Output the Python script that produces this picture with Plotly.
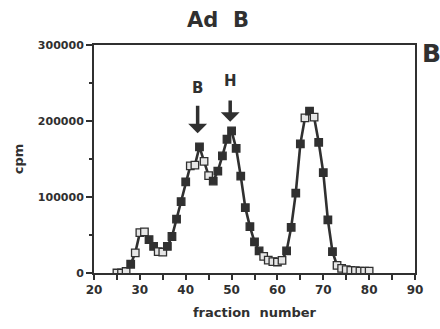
import plotly.graph_objects as go

# ---- data ----
fractions = list(range(25, 81))
cpm = [
    0, 0, 2000, 11500, 26500, 53000, 54000, 44000, 35000, 28000,          # 25-34
    27500, 35000, 48000, 71000, 94000, 120000, 141000, 142000, 166000, 147000,  # 35-44
    128000, 121000, 134000, 154000, 176000, 187000, 164000, 127500, 86000, 61000,  # 45-54
    41000, 29000, 22000, 17000, 15000, 14500, 16500, 29000, 60000, 105000,  # 55-64
    170000, 204000, 213000, 205000, 172000, 132000, 70000, 28000, 10000, 6000,  # 65-74
    4500, 3500, 3000, 2500, 2500, 2500,                                     # 75-80
]
# fractions whose squares look open (light centre) in the photocopy
open_fractions = [25, 26, 27, 29, 30, 31, 34, 35, 41, 42, 44, 45,
                  57, 58, 59, 60, 61, 66, 68, 73, 74, 75, 76, 77, 78, 79, 80]

peak_labels = ["B", "H"]
peak_x = [42.6, 49.7]
arrow_tip = [184000, 199000]
arrow_tail = [222000, 229000]
label_y = [244000, 252000]

x_ticks = [20, 30, 40, 50, 60, 70, 80, 90]
y_ticks = [0, 100000, 200000, 300000]
y_ticktext = ["0", "100000", "200000", "300000"]

INK = "#303030"
FONT = "DejaVu Sans"

W, H = 440, 329
ML, MR, MT, MB = 94, 25, 45, 56
PW, PH = W - ML - MR, H - MT - MB

fill = ["#e6e6e6" if f in open_fractions else INK for f in fractions]

fig = go.Figure()
fig.add_trace(go.Scatter(
    x=fractions, y=cpm, mode="lines+markers",
    line=dict(color=INK, width=2.6),
    marker=dict(symbol="square", size=7.5, color=fill,
                line=dict(color=INK, width=1.3)),
    showlegend=False, hoverinfo="skip",
))

annotations = []
for lab, px, tip, tail, ly in zip(peak_labels, peak_x, arrow_tip, arrow_tail, label_y):
    annotations.append(dict(
        x=px, y=tip, ax=px, ay=tail, xref="x", yref="y", axref="x", ayref="y",
        text="", showarrow=True, arrowhead=1, arrowwidth=3.5, arrowsize=0.9,
        arrowcolor=INK,
    ))
    annotations.append(dict(
        x=px, y=ly, xref="x", yref="y", text=lab, showarrow=False,
        xanchor="center", yanchor="middle",
        font=dict(family=FONT, size=15, color=INK, weight="bold"),
    ))

# panel letter at the right edge
annotations.append(dict(
    x=(431 - ML) / PW, y=(H - MB - 53) / PH, xref="paper", yref="paper",
    xanchor="center", yanchor="middle",
    text="B", showarrow=False,
    font=dict(family=FONT, size=25, color=INK, weight="bold"),
))

fig.update_layout(
    width=W, height=H,
    margin=dict(l=ML, r=MR, t=MT, b=MB, autoexpand=False),
    paper_bgcolor="white", plot_bgcolor="white",
    title=dict(text="Ad  B", x=218 / W, xanchor="center", y=1 - 20 / H, yanchor="middle",
               xref="container", yref="container",
               font=dict(family=FONT, size=21, color=INK, weight="bold")),
    annotations=annotations,
)

fig.update_xaxes(
    range=[20, 90], tickvals=x_ticks, showgrid=False, zeroline=False,
    automargin=False,
    showline=True, linecolor=INK, linewidth=2, mirror=True,
    ticks="outside", ticklen=5, tickwidth=2, tickcolor=INK,
    minor=dict(dtick=5, ticks="outside", ticklen=5, tickwidth=2, tickcolor=INK),
    tickfont=dict(family=FONT, size=12, color=INK, weight="bold"),
    title=dict(text="fraction  number", standoff=11,
               font=dict(family=FONT, size=13, color=INK, weight="bold")),
)
fig.update_yaxes(
    range=[0, 300000], tickvals=y_ticks, ticktext=y_ticktext,
    showgrid=False, zeroline=False, automargin=False,
    showline=True, linecolor=INK, linewidth=2, mirror=True,
    ticks="outside", ticklen=6, tickwidth=1.5, tickcolor=INK,
    minor=dict(dtick=50000, ticks="outside", ticklen=3, tickwidth=1.5, tickcolor=INK),
    tickfont=dict(family=FONT, size=11, color=INK, weight="bold"),
    title=dict(text="cpm", standoff=11,
               font=dict(family=FONT, size=13, color=INK, weight="bold")),
)

fig.write_html("out.html", config={"displayModeBar": False},
               post_script="document.body.style.margin='0px';")
